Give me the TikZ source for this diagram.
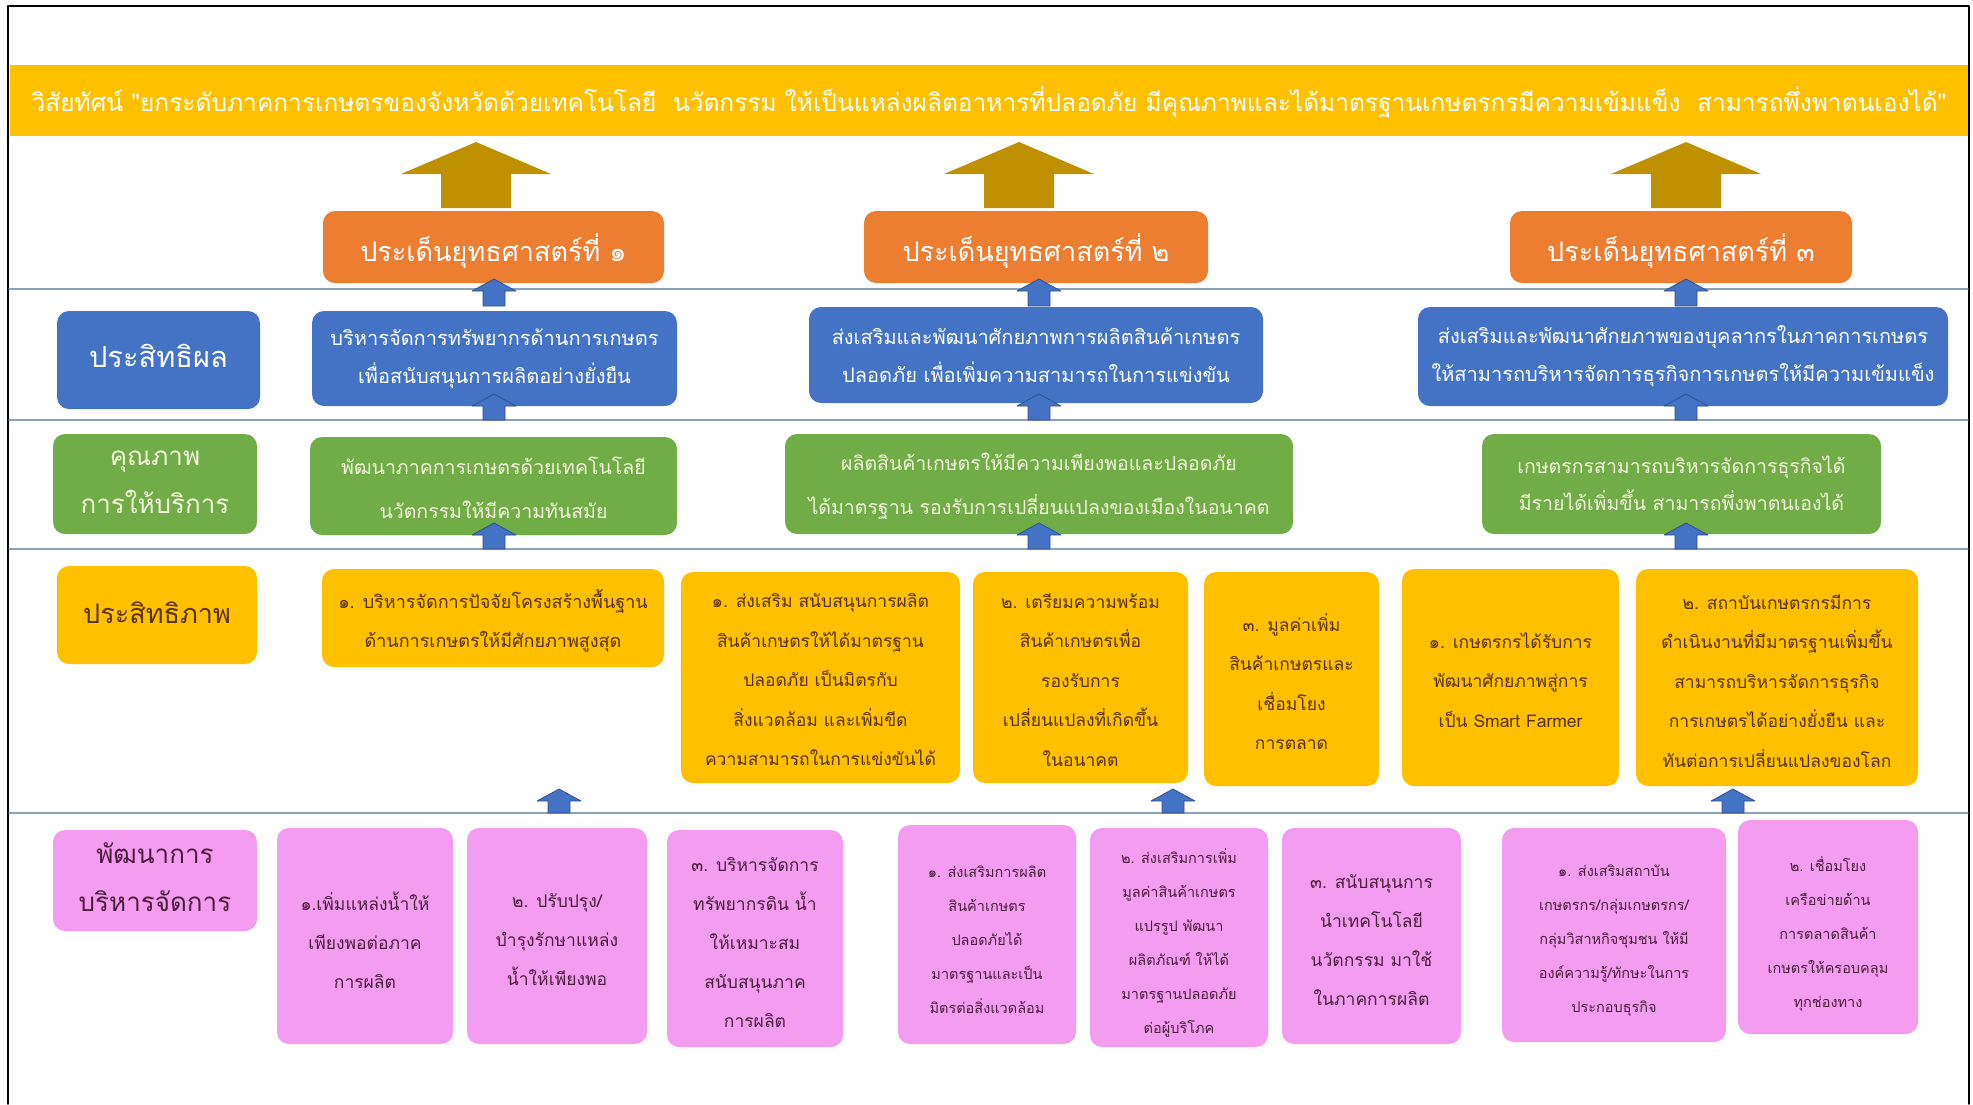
\documentclass[tikz,border=0pt]{standalone}
\usepackage{fontspec}
\newfontfamily\thaifont[Script=Thai]{Loma}
\usetikzlibrary{fit}

\definecolor{bandgold}{HTML}{FFC000}
\definecolor{arrowgold}{HTML}{BF9000}
\definecolor{stratorange}{HTML}{ED7D31}
\definecolor{effblue}{HTML}{4472C4}
\definecolor{arrowedge}{HTML}{2F528F}
\definecolor{qualgreen}{HTML}{70AD47}
\definecolor{pinkfill}{HTML}{F49CF0}
\definecolor{sepgrey}{HTML}{8EA0B8}
\definecolor{creamtext}{HTML}{F4F4DC}
\definecolor{browntext}{HTML}{5A3200}
\definecolor{plumtext}{HTML}{4A1E3C}

\begin{document}
\begin{tikzpicture}[x=1pt,y=-1pt,line cap=round,line join=round,
  card/.style={rounded corners=12pt,inner sep=0pt},
  cardtext/.style={align=center,inner sep=0pt},
  orangetext/.style={cardtext,text=white,yshift=-4.5pt,font=\thaifont\fontsize{27}{40}\selectfont},
  labeltext/.style={cardtext,yshift=2pt,font=\thaifont\fontsize{26}{48}\selectfont},
  bluetext/.style={cardtext,text=white,font=\thaifont\fontsize{20}{38}\selectfont},
  greentext/.style={cardtext,text=creamtext,yshift=-2pt,font=\thaifont\fontsize{19.5}{44}\selectfont},
  goldtext/.style={cardtext,text=browntext,yshift=-2.5pt,font=\thaifont\fontsize{17.5}{39.5}\selectfont},
  pinktext/.style={cardtext,text=plumtext,yshift=-4pt,font=\thaifont\fontsize{17.5}{39}\selectfont},
  smallpink/.style={pinktext,yshift=-1.5pt,font=\thaifont\fontsize{14.5}{34}\selectfont},
  goldarrow/.style={fill=arrowgold},
  bluearrow/.style={fill=effblue,draw=arrowedge,line width=0.8pt}]
  \useasboundingbox (0,0) rectangle (1973,1104);

  % Frame and separators
  \draw[line width=1.5pt] (8,1104) -- (8,6) -- (1969,6) -- (1969,1104);
  \foreach \yy in {289,420,549,813}
    \draw[sepgrey,line width=1.2pt] (9,\yy) -- (1968,\yy);

  % Vision band
  \node[fill=bandgold,inner sep=0pt,fit={(10,65) (1968,136)}] (vision) {};
  \node[cardtext,text=white,yshift=-2pt,font=\thaifont\fontsize{24.5}{28}\selectfont] (visiont) at (vision.center)
    {วิสัยทัศน์ "ยกระดับภาคการเกษตรของจังหวัดด้วยเทคโนโลยี\ \ นวัตกรรม ให้เป็นแหล่งผลิตอาหารที่ปลอดภัย มีคุณภาพและได้มาตรฐานเกษตรกรมีความเข้มแข็ง\ \ สามารถพึ่งพาตนเองได้"};

  % Big arrows up to the vision
  \foreach \cx in {476,1019,1686}
    \fill[goldarrow] (\cx,142) -- (\cx+75,174) -- (\cx+35,174) -- (\cx+35,208)
      -- (\cx-35,208) -- (\cx-35,174) -- (\cx-75,174) -- cycle;

  % Strategic issues
  \node[card,fill=stratorange,fit={(323,211) (664,283)}] (issue1) {};
  \node[card,fill=stratorange,fit={(864,211) (1208,283)}] (issue2) {};
  \node[card,fill=stratorange,fit={(1510,211) (1852,283)}] (issue3) {};
  \node[orangetext] (issue1t) at (issue1.center) {ประเด็นยุทธศาสตร์ที่ ๑};
  \node[orangetext] (issue2t) at (issue2.center) {ประเด็นยุทธศาสตร์ที่ ๒};
  \node[orangetext] (issue3t) at (issue3.center) {ประเด็นยุทธศาสตร์ที่ ๓};

  % Row labels
  \node[card,fill=effblue,fit={(57,311) (260,409)}] (effect) {};
  \node[card,fill=qualgreen,fit={(53,434) (257,534)}] (quality) {};
  \node[card,fill=bandgold,fit={(57,566) (257,664)}] (efficiency) {};
  \node[card,fill=pinkfill,fit={(53,830) (257,931)}] (develop) {};
  \node[labeltext,yshift=2pt,text=white,font=\thaifont\fontsize{29}{48}\selectfont] (effectt) at (effect.center) {ประสิทธิผล};
  \node[labeltext,text=creamtext] (qualityt) at (quality.center) {คุณภาพ\\การให้บริการ};
  \node[labeltext,text=browntext,font=\thaifont\fontsize{27}{48}\selectfont] (efficiencyt) at (efficiency.center) {ประสิทธิภาพ};
  \node[labeltext,yshift=1pt,text=plumtext] (developt) at (develop.center) {พัฒนาการ\\บริหารจัดการ};

  % Effectiveness
  \node[card,fill=effblue,fit={(312,311) (677,406)}] (eff1) {};
  \node[card,fill=effblue,fit={(809,307) (1263,403)}] (eff2) {};
  \node[card,fill=effblue,fit={(1418,307) (1948,406)}] (eff3) {};
  \node[bluetext] (eff1t) at (eff1.center)
    {บริหารจัดการทรัพยากรด้านการเกษตร\\เพื่อสนับสนุนการผลิตอย่างยั่งยืน};
  \node[bluetext] (eff2t) at (eff2.center)
    {ส่งเสริมและพัฒนาศักยภาพการผลิตสินค้าเกษตร\\ปลอดภัย เพื่อเพิ่มความสามารถในการแข่งขัน};
  \node[bluetext] (eff3t) at (eff3.center)
    {ส่งเสริมและพัฒนาศักยภาพของบุคลากรในภาคการเกษตร\\ให้สามารถบริหารจัดการธุรกิจการเกษตรให้มีความเข้มแข็ง};

  % Service quality
  \node[card,fill=qualgreen,fit={(310,437) (677,535)}] (qual1) {};
  \node[card,fill=qualgreen,fit={(785,434) (1293,534)}] (qual2) {};
  \node[card,fill=qualgreen,fit={(1482,434) (1881,534)}] (qual3) {};
  \node[greentext] (qual1t) at (qual1.center)
    {พัฒนาภาคการเกษตรด้วยเทคโนโลยี\\นวัตกรรมให้มีความทันสมัย};
  \node[greentext] (qual2t) at (qual2.center)
    {ผลิตสินค้าเกษตรให้มีความเพียงพอและปลอดภัย\\ได้มาตรฐาน รองรับการเปลี่ยนแปลงของเมืองในอนาคต};
  \node[greentext,yshift=3pt,font=\thaifont\fontsize{19.5}{37}\selectfont] (qual3t) at (qual3.center)
    {เกษตรกรสามารถบริหารจัดการธุรกิจได้\\มีรายได้เพิ่มขึ้น สามารถพึ่งพาตนเองได้};

  % Efficiency
  \node[card,fill=bandgold,fit={(322,569) (664,667)}] (effi1) {};
  \node[card,fill=bandgold,fit={(681,572) (960,783)}] (effi2) {};
  \node[card,fill=bandgold,fit={(973,572) (1188,783)}] (effi3) {};
  \node[card,fill=bandgold,fit={(1204,572) (1379,786)}] (effi4) {};
  \node[card,fill=bandgold,fit={(1402,569) (1619,786)}] (effi5) {};
  \node[card,fill=bandgold,fit={(1636,569) (1918,786)}] (effi6) {};
  \node[goldtext,yshift=-0.5pt,font=\thaifont\fontsize{18}{39.5}\selectfont] (effi1t) at (effi1.center)
    {๑. บริหารจัดการปัจจัยโครงสร้างพื้นฐาน\\ด้านการเกษตรให้มีศักยภาพสูงสุด};
  \node[goldtext] (effi2t) at (effi2.center)
    {๑. ส่งเสริม สนับสนุนการผลิต\\สินค้าเกษตรให้ได้มาตรฐาน\\ปลอดภัย เป็นมิตรกับ\\สิ่งแวดล้อม และเพิ่มขีด\\ความสามารถในการแข่งขันได้};
  \node[goldtext] (effi3t) at (effi3.center)
    {๒. เตรียมความพร้อม\\สินค้าเกษตรเพื่อ\\รองรับการ\\เปลี่ยนแปลงที่เกิดขึ้น\\ในอนาคต};
  \node[goldtext] (effi4t) at (effi4.center)
    {๓. มูลค่าเพิ่ม\\สินค้าเกษตรและ\\เชื่อมโยง\\การตลาด};
  \node[goldtext] (effi5t) at (effi5.center)
    {๑. เกษตรกรได้รับการ\\พัฒนาศักยภาพสู่การ\\เป็น Smart Farmer};
  \node[goldtext,yshift=-1pt] (effi6t) at (effi6.center)
    {๒. สถาบันเกษตรกรมีการ\\ดำเนินงานที่มีมาตรฐานเพิ่มขึ้น\\สามารถบริหารจัดการธุรกิจ\\การเกษตรได้อย่างยั่งยืน และ\\ทันต่อการเปลี่ยนแปลงของโลก};

  % Management development
  \node[card,fill=pinkfill,fit={(277,828) (453,1044)}] (dev1) {};
  \node[card,fill=pinkfill,fit={(467,828) (647,1044)}] (dev2) {};
  \node[card,fill=pinkfill,fit={(667,830) (843,1047)}] (dev3) {};
  \node[card,fill=pinkfill,fit={(898,825) (1076,1044)}] (dev4) {};
  \node[card,fill=pinkfill,fit={(1090,828) (1268,1047)}] (dev5) {};
  \node[card,fill=pinkfill,fit={(1282,828) (1461,1044)}] (dev6) {};
  \node[card,fill=pinkfill,fit={(1502,828) (1726,1042)}] (dev7) {};
  \node[card,fill=pinkfill,fit={(1738,820) (1918,1034)}] (dev8) {};
  \node[pinktext] (dev1t) at (dev1.center)
    {๑.เพิ่มแหล่งน้ำให้\\เพียงพอต่อภาค\\การผลิต};
  \node[pinktext] (dev2t) at (dev2.center)
    {๒. ปรับปรุง/\\บำรุงรักษาแหล่ง\\น้ำให้เพียงพอ};
  \node[pinktext] (dev3t) at (dev3.center)
    {๓. บริหารจัดการ\\ทรัพยากรดิน น้ำ\\ให้เหมาะสม\\สนับสนุนภาค\\การผลิต};
  \node[smallpink] (dev4t) at (dev4.center)
    {๑. ส่งเสริมการผลิต\\สินค้าเกษตร\\ปลอดภัยได้\\มาตรฐานและเป็น\\มิตรต่อสิ่งแวดล้อม};
  \node[smallpink] (dev5t) at (dev5.center)
    {๒. ส่งเสริมการเพิ่ม\\มูลค่าสินค้าเกษตร\\แปรรูป พัฒนา\\ผลิตภัณฑ์ ให้ได้\\มาตรฐานปลอดภัย\\ต่อผู้บริโภค};
  \node[pinktext] (dev6t) at (dev6.center)
    {๓. สนับสนุนการ\\นำเทคโนโลยี\\นวัตกรรม มาใช้\\ในภาคการผลิต};
  \node[smallpink] (dev7t) at (dev7.center)
    {๑. ส่งเสริมสถาบัน\\เกษตรกร/กลุ่มเกษตรกร/\\กลุ่มวิสาหกิจชุมชน ให้มี\\องค์ความรู้/ทักษะในการ\\ประกอบธุรกิจ};
  \node[smallpink,yshift=-1pt] (dev8t) at (dev8.center)
    {๒. เชื่อมโยง\\เครือข่ายด้าน\\การตลาดสินค้า\\เกษตรให้ครอบคลุม\\ทุกช่องทาง};

  % Small arrows between the rows
  \foreach \cx in {494,1039,1686}
    \foreach \ty/\by in {279/306,394/420,523/549}
      \filldraw[bluearrow] (\cx,\ty) -- (\cx+22,\ty+12) -- (\cx+11,\ty+12) -- (\cx+11,\by)
        -- (\cx-11,\by) -- (\cx-11,\ty+12) -- (\cx-22,\ty+12) -- cycle;
  \foreach \cx in {559,1173,1733}
    \filldraw[bluearrow] (\cx,789) -- (\cx+22,801) -- (\cx+11,801) -- (\cx+11,813)
      -- (\cx-11,813) -- (\cx-11,801) -- (\cx-22,801) -- cycle;
\end{tikzpicture}
\end{document}
